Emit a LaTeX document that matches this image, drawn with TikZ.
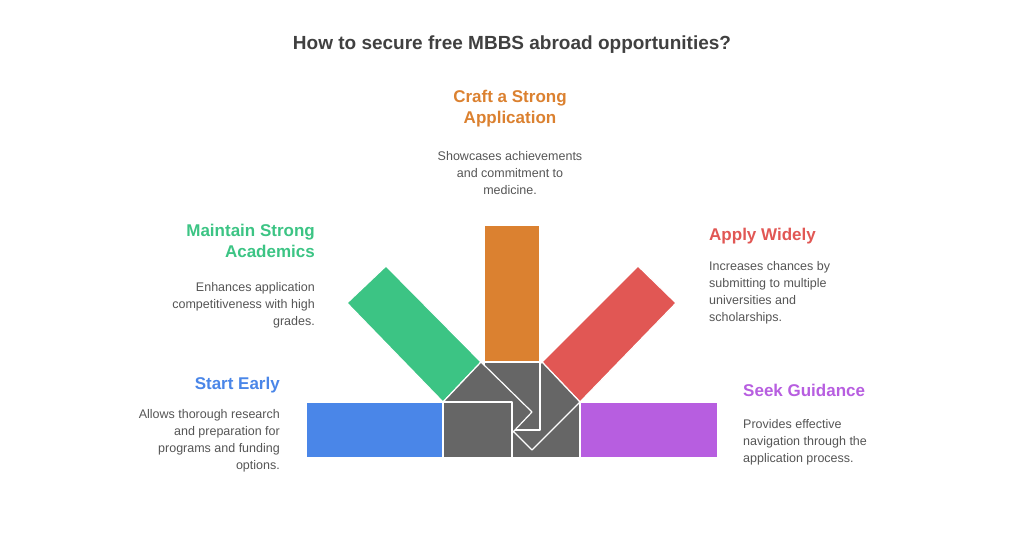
\documentclass[tikz,border=0pt]{standalone}
\usepackage{fontspec}
\setmainfont{Liberation Sans}
\definecolor{cblue}{HTML}{4A86E8}
\definecolor{cgreen}{HTML}{3CC484}
\definecolor{corange}{HTML}{DB8130}
\definecolor{cred}{HTML}{E15754}
\definecolor{cpurple}{HTML}{B75EE0}
\definecolor{cgray}{HTML}{666666}
\definecolor{ctext}{HTML}{555555}
\definecolor{ctitle}{HTML}{404040}
\begin{document}
\begin{tikzpicture}[x=1pt,y=-1pt,
  piece/.style={draw=white,line width=1.2pt,line join=round},
  head/.style={font=\fontsize{17}{21}\selectfont\bfseries,inner sep=0},
  desc/.style={font=\fontsize{12.5}{17}\selectfont,text=ctext,inner sep=0}]
\useasboundingbox (0,0) rectangle (1024,536);
\node[font=\fontsize{19}{23}\selectfont\bfseries,text=ctitle] (title) at (512,45) {How to secure free MBBS abroad opportunities?};
% bars
\filldraw[piece,fill=cblue] (306,402) rectangle (443,458);
\filldraw[piece,fill=cpurple] (580,402) rectangle (718,458);
\filldraw[piece,fill=corange] (484,225) rectangle (540,362);
\filldraw[piece,fill=cgreen] (347,303) -- (386,266) -- (481,362) -- (443,402) -- cycle;
\filldraw[piece,fill=cred] (638,266) -- (676,303) -- (580,402) -- (542,362) -- cycle;
% hub
\filldraw[piece,fill=cgray] (512,402) rectangle (580,458);
\filldraw[piece,fill=cgray] (542,362) -- (580,402) -- (532,450) -- (494,412) -- cycle;
\filldraw[piece,fill=cgray] (484,362) rectangle (540,430);
\filldraw[piece,fill=cgray] (443,402) -- (481,362) -- (532,412) -- (494,452) -- cycle;
\filldraw[piece,fill=cgray] (443,402) rectangle (512,458);
% texts
\node[head,text=corange,align=center] (h1) at (510,109) {Craft a Strong\\Application};
\node[desc,align=center] (d1) at (510,173) {Showcases achievements\\and commitment to\\medicine.};
\node[head,text=cgreen,align=right,anchor=east] (h2) at (315,241) {Maintain Strong\\Academics};
\node[desc,align=right,anchor=east] (d2) at (315,305) {Enhances application\\competitiveness with high\\grades.};
\node[head,text=cred,anchor=west] (h3) at (709,236) {Apply Widely};
\node[desc,align=left,anchor=west] (d3) at (709,293) {Increases chances by\\submitting to multiple\\universities and\\scholarships.};
\node[head,text=cblue,anchor=east] (h4) at (280,385) {Start Early};
\node[desc,align=right,anchor=east] (d4) at (280,441) {Allows thorough research\\and preparation for\\programs and funding\\options.};
\node[head,text=cpurple,anchor=west] (h5) at (743,390) {Seek Guidance};
\node[desc,align=left,anchor=west] (d5) at (743,442) {Provides effective\\navigation through the\\application process.};
\end{tikzpicture}
\end{document}
